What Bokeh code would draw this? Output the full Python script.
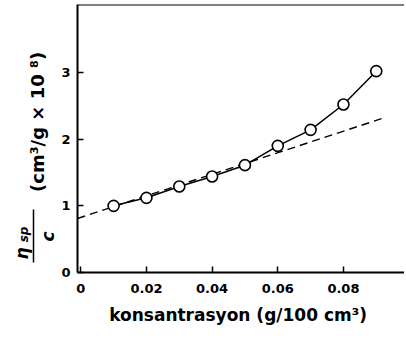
import math
from bokeh.plotting import figure
from bokeh.layouts import row
from bokeh.models import Range1d, FixedTicker, Span
from bokeh.core.properties import value
from bokeh.embed import file_html
from bokeh.resources import INLINE

# data
conc = [0.01, 0.02, 0.03, 0.04, 0.05, 0.06, 0.07, 0.08, 0.09]
eta_red = [1.00, 1.12, 1.29, 1.44, 1.61, 1.90, 2.14, 2.52, 3.02]
fit_x = [-0.001, 0.093]
fit_y = [0.81, 2.33]
x_ticks = [0, 0.02, 0.04, 0.06, 0.08]
x_tick_labels = ["0", "0.02", "0.04", "0.06", "0.08"]
y_ticks = [0, 1, 2, 3]

FONT = "DejaVu Sans"
H = 335
LW = 56          # width of the y-title strip
W = 404 - LW     # width of the chart

# ---- main chart ----
p = figure(width=W, height=H, output_backend="svg", toolbar_location=None,
           x_range=Range1d(-0.001, 0.0986), y_range=Range1d(0, 4.02),
           min_border_left=77 - LW, min_border_right=0, min_border_top=4,
           min_border_bottom=63)
p.outline_line_color = None
p.grid.visible = False
p.background_fill_color = "white"
p.border_fill_color = "white"

for ax in (p.xaxis[0], p.yaxis[0]):
    ax.axis_line_width = 2
    ax.axis_line_color = "black"
    ax.major_tick_in = 6
    ax.major_tick_out = 0
    ax.major_tick_line_width = 1.5
    ax.minor_tick_line_color = None
    ax.major_label_text_font = FONT
    ax.major_label_text_font_style = "bold"
    ax.major_label_text_font_size = "13px"
    ax.major_label_text_color = "black"

p.xaxis.ticker = FixedTicker(ticks=x_ticks)
p.xaxis.major_label_overrides = {t: s for t, s in zip(x_ticks, x_tick_labels)}
p.xaxis.major_label_standoff = 11
p.xaxis.axis_label = "konsantrasyon  (g/100 cm³)"
p.xaxis.axis_label_text_font = FONT
p.xaxis.axis_label_text_font_style = "bold"
p.xaxis.axis_label_text_font_size = "17px"
p.xaxis.axis_label_text_color = "black"
p.xaxis.axis_label_standoff = 9

p.yaxis.ticker = FixedTicker(ticks=y_ticks)
p.yaxis.major_label_standoff = 7

p.add_layout(Span(location=4.02, dimension="width", line_color="black", line_width=2))

p.line(fit_x, fit_y, line_color="black", line_width=1.4, line_dash="8 5")
p.line(conc, eta_red, line_color="black", line_width=1.5)
p.scatter(conc, eta_red, marker="circle", size=11, fill_color="white",
          line_color="black", line_width=1.6)

# ---- y-title strip (pixel coordinates: x from left, y from bottom) ----
t = figure(frame_width=LW, frame_height=H, output_backend="svg", toolbar_location=None,
           x_range=Range1d(0, LW), y_range=Range1d(0, H),
           x_axis_type=None, y_axis_type=None, title=None,
           min_border=0, min_border_left=0, min_border_right=0,
           min_border_top=0, min_border_bottom=0)
t.outline_line_color = None
t.background_fill_color = "white"
t.border_fill_color = "white"

def lab(txt, x, y, size, style="bold"):
    t.text(x=[x], y=[H - y], text=[txt], angle=math.pi / 2,
           text_align="center", text_baseline="middle",
           text_font=value(FONT), text_font_size=value(size),
           text_font_style=style, text_color="black")

lab("η", 21, 249, "17px", "bold italic")
lab("sp", 23, 230, "12px", "bold italic")
lab("c", 47, 232, "17px", "bold italic")
lab("(cm³/g  ×  10  ⁸)", 37, 108, "18px")
t.segment(x0=[33], y0=[H - 258], x1=[33], y1=[H - 205], line_color="black", line_width=1.5)

open("out.html", "w").write(file_html(row(t, p), INLINE))
